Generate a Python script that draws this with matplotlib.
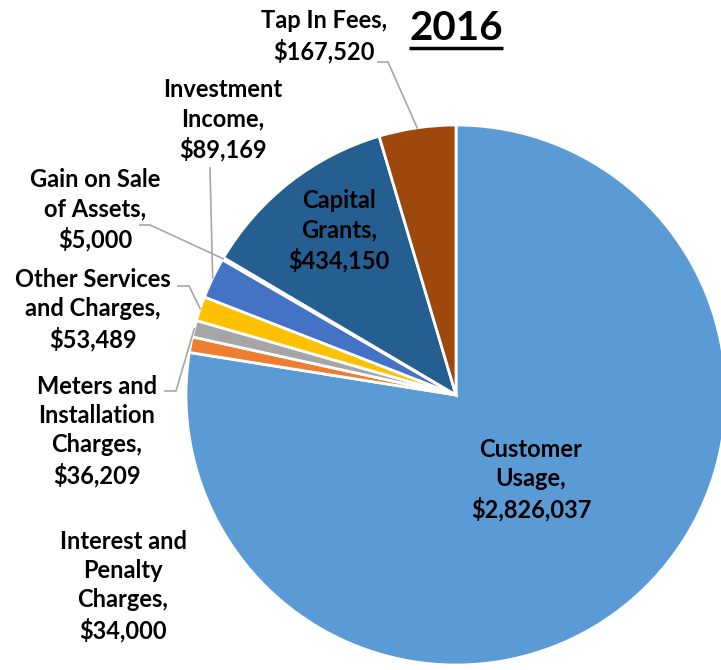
import numpy as np
import matplotlib
matplotlib.use("Agg")
from matplotlib import pyplot as plt

# revenue sources, 2016 (clockwise from 12 o'clock)
sources = ["Customer\nUsage", "Interest and\nPenalty\nCharges", "Meters and\nInstallation\nCharges",
           "Other Services\nand Charges", "Investment\nIncome", "Gain on Sale\nof Assets",
           "Capital\nGrants", "Tap In Fees"]
amounts = [2826037, 34000, 36209, 53489, 89169, 5000, 434150, 167520]
colors = ["#5B9BD5", "#ED7D31", "#A5A5A5", "#FFC000", "#4472C4", "#70AD47", "#255E91", "#9E480E"]

W, H = 721, 670
CX, CY, R = 456, 395, 270   # pie centre / radius in pixels (y from top)

plt.rcParams['font.family'] = ['Lato', 'DejaVu Sans']

fig = plt.figure(figsize=(W / 100, H / 100), dpi=100)
ax = fig.add_axes([0, 0, 1, 1])

wedges, _ = ax.pie(amounts, colors=colors, startangle=90, counterclock=False,
                   center=(CX, H - CY), radius=R,
                   wedgeprops=dict(edgecolor="white", linewidth=2))
ax.set_xlim(0, W)
ax.set_ylim(0, H)
ax.set_aspect("equal")
ax.axis("off")


def py(y):
    return H - y


# label centre positions (pixels from top-left) and leader-line anchor near the label
label_pos = {
    0: (531, 480, None),
    1: (123, 586, None),
    2: (97, 431, [(165, 391), (176, 391)]),
    3: (93, 310, [(178, 286), (189, 286)]),
    4: (223, 120, [(210, 168)]),
    5: (95, 210, [(140, 225), (150, 225)]),
    6: (339, 231, None),
    7: (324, 36, [(378, 62), (388, 62)]),
}

for i, (name, val) in enumerate(zip(sources, amounts)):
    x, y, lead = label_pos[i]
    ax.text(x, py(y), f"{name},\n${val:,}", ha="center", va="center",
            fontsize=17, fontweight="bold", color="black", linespacing=1.33)
    if lead:
        w = wedges[i]
        mid = np.deg2rad((w.theta1 + w.theta2) / 2)
        ex = CX + R * np.cos(mid)
        ey = CY - R * np.sin(mid)
        pts = lead + [(ex, ey)]
        ax.plot([p[0] for p in pts], [py(p[1]) for p in pts], color="#A6A6A6", lw=1.2)

title = ax.text(CX, py(28), "2016", ha="center", va="center",
                fontsize=29, fontweight="bold", color="black")
fig.canvas.draw()
bb = title.get_window_extent().transformed(ax.transData.inverted())
ax.plot([bb.x0, bb.x1], [py(48), py(48)], color="black", lw=2.5, solid_capstyle="butt")

fig.savefig("out.png", dpi=100)
